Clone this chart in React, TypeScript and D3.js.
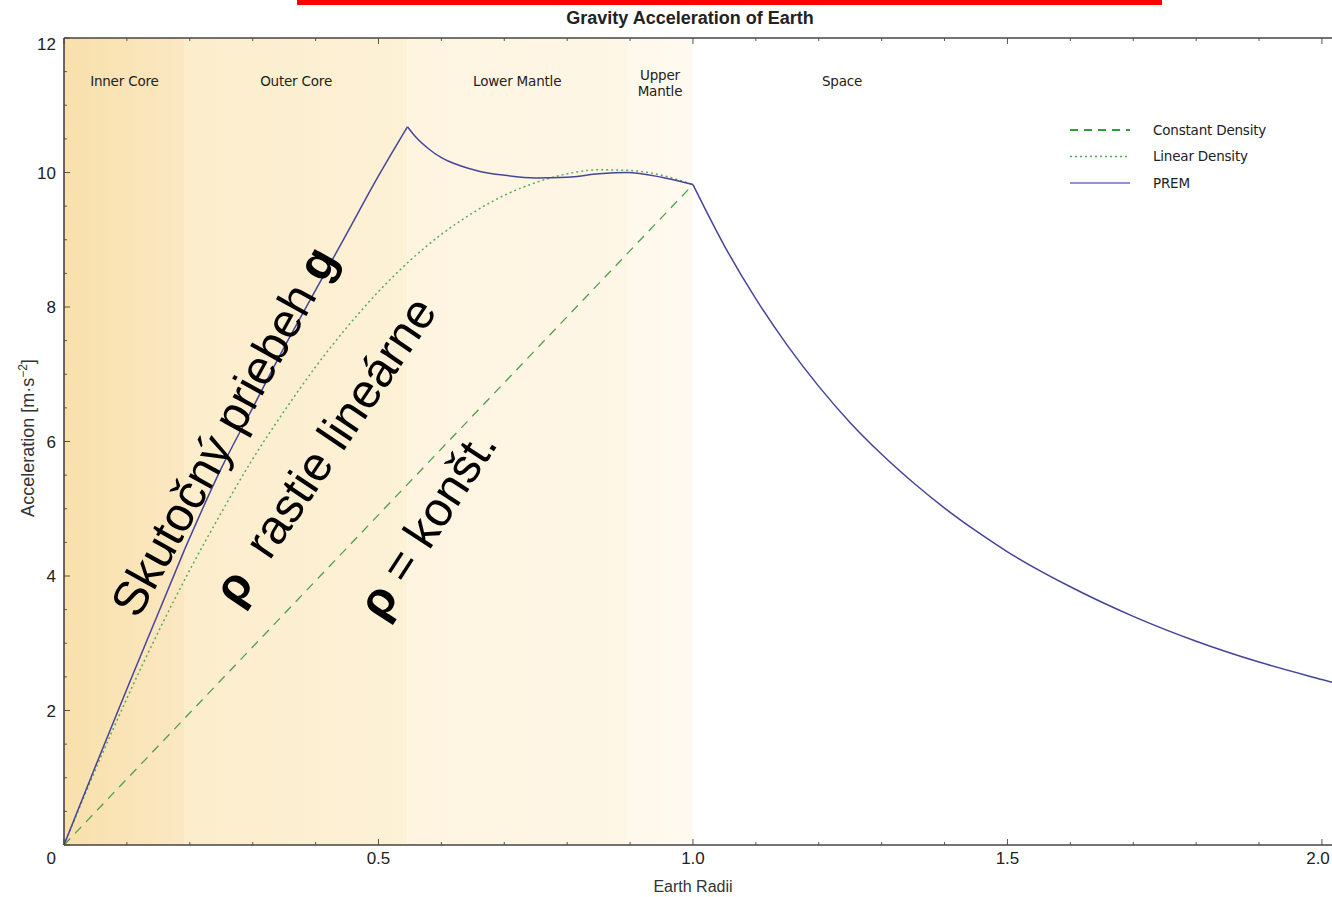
import React from 'react';
import * as d3 from 'd3';

// earth radii vs. gravity [m/s^2]
const premR = [0, 0.05, 0.1, 0.15, 0.192, 0.25, 0.3, 0.35, 0.4, 0.45, 0.5, 0.546, 0.56, 0.58, 0.6, 0.63, 0.66, 0.7, 0.75, 0.8, 0.85, 0.895, 0.95, 1.0,
  1.05, 1.1, 1.15, 1.2, 1.25, 1.3, 1.35, 1.4, 1.45, 1.5, 1.6, 1.7, 1.8, 1.9, 2.0, 2.016];
const premG = [0, 1.17, 2.32, 3.45, 4.4, 5.6, 6.5, 7.4, 8.25, 9.1, 9.95, 10.68, 10.52, 10.35, 10.22, 10.1, 10.02, 9.96, 9.92, 9.93, 9.98, 10.0, 9.93, 9.82,
  8.91, 8.12, 7.43, 6.82, 6.28, 5.81, 5.39, 5.01, 4.67, 4.36, 3.84, 3.4, 3.03, 2.72, 2.46, 2.42];

const linR = [0, 0.05, 0.1, 0.15, 0.2, 0.25, 0.3, 0.35, 0.4, 0.45, 0.5, 0.55, 0.6, 0.65, 0.7, 0.75, 0.8, 0.85, 0.9, 0.95, 1.0];
const linG = [0, 1.12, 2.18, 3.17, 4.09, 4.94, 5.74, 6.45, 7.11, 7.7, 8.23, 8.69, 9.08, 9.4, 9.66, 9.85, 9.98, 10.04, 10.03, 9.96, 9.82];

const constR = [0, 1.0];
const constG = [0, 9.82];

const layerNames = ['Inner Core', 'Outer Core', 'Lower Mantle', 'Upper\nMantle', 'Space'];
const layerBounds = [0, 0.192, 0.546, 0.895, 1.0, 2.016];
const layerColors = [['#f9e0ab', '#fbe8c2'], ['#fcedcc', '#fdf1d6'], ['#fef4e0', '#fef6e6'], ['#fff8eb', '#fffaf0'], ['#ffffff', '#ffffff']];

// kinks of the PREM curve (inner core, core-mantle boundary, surface)
const premBreaks = [0.192, 0.546, 1.0];

const xTicks = [0.5, 1.0, 1.5, 2.0];
const yTicks = [2, 4, 6, 8, 10, 12];

const legendItems = ['Constant Density', 'Linear Density', 'PREM'];

const W = 1332, H = 897;
const margin = { top: 38, right: 0, bottom: 52, left: 64 };

const x = d3.scaleLinear().domain([0, 2.016]).range([margin.left, W - margin.right]);
const y = d3.scaleLinear().domain([0, 12]).range([H - margin.bottom, margin.top]);

const line = d3.line<[number, number]>()
  .x(d => x(d[0]))
  .y(d => y(d[1]))
  .curve(d3.curveMonotoneX);

const zip = (a: number[], b: number[]) => a.map((v, i) => [v, b[i]] as [number, number]);

// split into pieces at the kinks so the smoothing keeps them sharp
function pieces(pts: [number, number][], breaks: number[]) {
  const out: [number, number][][] = [];
  let cur: [number, number][] = [];
  pts.forEach(p => {
    cur.push(p);
    if (breaks.some(b => Math.abs(b - p[0]) < 1e-9)) {
      out.push(cur);
      cur = [p];
    }
  });
  if (cur.length > 1) out.push(cur);
  return out;
}

const styles = [
  { stroke: '#4f9f4f', width: 1.3, dash: '9,7' },
  { stroke: '#5aaa5a', width: 1.5, dash: '2,3' },
  { stroke: '#45459a', width: 1.5, dash: null },
];
const legendStyles = [
  { stroke: '#2f9f2f', width: 2, dash: '8,6' },
  { stroke: '#4fae4f', width: 1.5, dash: '2,3' },
  { stroke: '#6f6fc4', width: 1.5, dash: null },
];

export default function App() {
  const x0 = x(0), x1 = x.range()[1];
  const y0 = y(0), y1 = y(12);
  const minorX = d3.range(0, 2.02, 0.1);
  const minorY = d3.range(0, 12.01, 0.5);
  const font = 'Liberation Sans, Arial, sans-serif';
  const smallFont = 'DejaVu Sans, Verdana, sans-serif';

  const series = [
    [zip(constR, constG)],
    [zip(linR, linG)],
    pieces(zip(premR, premG), premBreaks),
  ];

  return (
    <svg width={W} height={H} style={{ position: 'absolute', left: 0, top: 0, background: '#fff' }}>
      <defs>
        {layerColors.map((c, i) => (
          <linearGradient key={i} id={`band${i}`} x1="0" x2="1" y1="0" y2="0">
            <stop offset="0" stopColor={c[0]} />
            <stop offset="1" stopColor={c[1]} />
          </linearGradient>
        ))}
      </defs>

      <rect x={297} y={0} width={865} height={5} fill="#ff0000" />
      <text x={690} y={24} textAnchor="middle" fontFamily={font} fontWeight="bold" fontSize={18} fill="#222">
        Gravity Acceleration of Earth
      </text>

      {layerNames.map((name, i) => {
        const xa = x(layerBounds[i]), xb = x(layerBounds[i + 1]);
        const lines = name.split('\n');
        const cx = i === 4 ? 842 : (xa + xb) / 2;
        return (
          <g key={name}>
            <rect x={xa} y={y1} width={xb - xa} height={y0 - y1} fill={`url(#band${i})`} />
            <text x={cx} y={lines.length > 1 ? 80 : 86} textAnchor="middle" fontFamily={smallFont} fontSize={13.5}
              fill="#222" letterSpacing={-0.2}>
              {lines.map((l, j) => (
                <tspan key={j} x={cx} dy={j === 0 ? 0 : 16}>{l}</tspan>
              ))}
            </text>
          </g>
        );
      })}

      {series.map((segs, i) => segs.map((d, k) => (
        <path key={`${i}-${k}`} d={line(d) || ''} fill="none" stroke={styles[i].stroke} strokeWidth={styles[i].width}
          strokeDasharray={styles[i].dash || undefined} />
      )))}

      <g stroke="#555" strokeWidth={1}>
        {minorX.map((t, i) => {
          const major = Math.abs(t * 2 - Math.round(t * 2)) < 1e-6;
          const len = major ? 6 : 3;
          return (
            <g key={i}>
              <line x1={x(t)} x2={x(t)} y1={y0} y2={y0 - len} />
              <line x1={x(t)} x2={x(t)} y1={y1} y2={y1 + len} />
            </g>
          );
        })}
        {minorY.map((t, i) => {
          const len = t % 2 === 0 ? 6 : 3;
          return <line key={i} x1={x0} x2={x0 + len} y1={y(t)} y2={y(t)} />;
        })}
      </g>
      <g stroke="#444" strokeWidth={1.6} fill="none">
        <line x1={x0} x2={x0} y1={y1} y2={y0} />
        <line x1={x0} x2={x1} y1={y0} y2={y0} />
        <line x1={x0} x2={x1} y1={y1} y2={y1} />
      </g>

      <g fontFamily={font} fontSize={17} fill="#222">
        {yTicks.map(t => (
          <text key={t} x={x0 - 8} y={t === 12 ? y(t) + 12 : y(t) + 6} textAnchor="end">{t}</text>
        ))}
        <text x={x0 - 8} y={y0 + 19} textAnchor="end">0</text>
        {xTicks.map(t => (
          <text key={t} x={t === 2 ? Math.min(x(t), W - 14) : x(t)} y={y0 + 19} textAnchor="middle">{t.toFixed(1)}</text>
        ))}
      </g>
      <text x={693} y={892} textAnchor="middle" fontFamily={font} fontSize={16} fill="#333">Earth Radii</text>
      <text transform="translate(34,438) rotate(-90)" textAnchor="middle" fontFamily={font} fontSize={18} fill="#333">
        Acceleration [m·s<tspan dy={-7} fontSize={12}>−2</tspan><tspan dy={7}>]</tspan>
      </text>

      {legendItems.map((name, i) => {
        const ly = 130 + i * 26.5;
        const s = legendStyles[i];
        return (
          <g key={name}>
            <line x1={1070} x2={1130} y1={ly} y2={ly} stroke={s.stroke} strokeWidth={s.width} strokeDasharray={s.dash || undefined} />
            <text x={1153} y={ly + 4.5} fontFamily={smallFont} fontSize={13.5} fill="#222" letterSpacing={-0.2}>{name}</text>
          </g>
        );
      })}

      <g fontFamily={font} fontSize={48} fill="#000">
        <text transform="translate(138,620) rotate(-61)">
          Skutočný priebeh <tspan fontWeight="bold">g</tspan>
        </text>
        <text transform="translate(238,608) rotate(-56)" xmlSpace="preserve" style={{ whiteSpace: 'pre' }}>
          <tspan fontWeight="bold">ρ</tspan>{'\u00a0\u00a0rastie lineárne'}
        </text>
        <text transform="translate(383,622) rotate(-57)">
          <tspan fontWeight="bold">ρ</tspan> = konšt.
        </text>
      </g>
    </svg>
  );
}
